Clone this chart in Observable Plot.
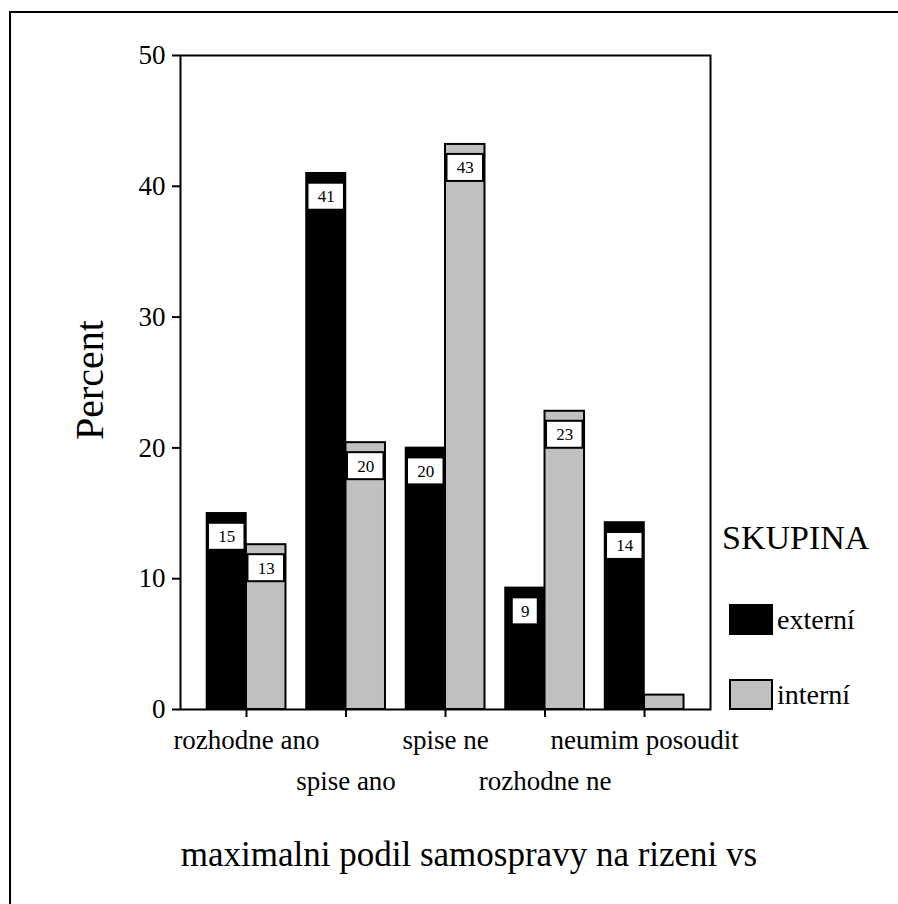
<!DOCTYPE html>
<html>
<head>
<meta charset="utf-8">
<script src="https://cdn.jsdelivr.net/npm/d3@7"></script>
<script src="https://cdn.jsdelivr.net/npm/@observablehq/plot@0.6"></script>
<style>
  html, body { margin: 0; padding: 0; background: #fff; }
  #wrap { position: relative; width: 898px; height: 904px; overflow: hidden; font-family: "Liberation Serif", "Times New Roman", serif; color: #000; }
  #outer { position: absolute; left: 9px; top: 11px; width: 900px; height: 900px; border-left: 2px solid #000; border-top: 2px solid #000; }
  #chart { position: absolute; left: 0; top: 0; }
  .txt { position: absolute; white-space: nowrap; line-height: 1; }
  .sw { position: absolute; box-sizing: border-box; }
</style>
</head>
<body>
<div id="wrap">
  <div id="outer"></div>
  <div id="chart"></div>
</div>
<script>
const categories = ["rozhodne ano", "spise ano", "spise ne", "rozhodne ne", "neumim posoudit"];
const groups = ["externí", "interní"];
const externi = [15.0, 41.0, 20.0, 9.3, 14.3];
const interni = [12.6, 20.4, 43.2, 22.8, 1.1];
const yTicks = [0, 10, 20, 30, 40, 50];
const colors = ["#000000", "#c0c0c0"];
const legendTitle = "SKUPINA";
const yLabel = "Percent";
const xTitle = "maximalni podil samospravy na rizeni vs";

const rows = [];
categories.forEach((c, i) => {
  rows.push({cat: c, group: groups[0], value: externi[i]});
  rows.push({cat: c, group: groups[1], value: interni[i]});
});
const labelled = rows.filter(d => d.value >= 2);

const W = 898, H = 904;
const mL = 180, mR = 188, mT = 55, mB = 195;
const po = 0.163;
const step = (W - mL - mR) / (categories.length + 2 * po);
const half = step / 2;
const barW = 39.5;
const outerInset = half - barW;

function boxMarks(groupIdx) {
  const marks = [];
  const sub = labelled.filter(d => d.group === groups[groupIdx]);
  [[1, 26], [2, 36.5]].forEach(([digits, bw]) => {
    const data = sub.filter(d => String(Math.round(d.value)).length === digits);
    const side = (barW - bw) / 2;
    const near = half + side;
    const far = outerInset + side;
    marks.push(Plot.barY(data, {
      x: "cat", y1: "value", y2: "value",
      insetTop: 10, insetBottom: -37,
      insetLeft: groupIdx === 0 ? far : near,
      insetRight: groupIdx === 0 ? near : far,
      fill: "white", stroke: "black", strokeWidth: 2
    }));
  });
  marks.push(Plot.text(sub, {
    x: "cat", y: "value",
    text: d => String(Math.round(d.value)),
    dx: groupIdx === 0 ? -barW / 2 : barW / 2,
    dy: 23.5,
    fontSize: 17, fill: "black", lineAnchor: "middle", textAnchor: "middle"
  }));
  return marks;
}

const chart = Plot.plot({
  width: W, height: H,
  marginLeft: mL, marginRight: mR, marginTop: mT, marginBottom: mB,
  style: {fontFamily: "Liberation Serif", background: "transparent", color: "black"},
  x: {type: "band", domain: categories, paddingInner: 0, paddingOuter: po, round: false},
  y: {domain: [0, 50]},
  color: {domain: groups, range: colors},
  marks: [
    Plot.barY(rows.filter(d => d.group === groups[0]), {
      x: "cat", y: "value", fill: "group", stroke: "black", strokeWidth: 1.5,
      insetLeft: outerInset, insetRight: half
    }),
    Plot.barY(rows.filter(d => d.group === groups[1]), {
      x: "cat", y: "value", fill: "group", stroke: "black", strokeWidth: 2,
      insetLeft: half, insetRight: outerInset
    }),
    Plot.frame({stroke: "black", strokeWidth: 2}),
    Plot.axisY({ticks: yTicks, tickSize: 8, tickPadding: 7, fontSize: 27, strokeWidth: 2, label: null}),
    Plot.axisX({ticks: categories.filter((_, i) => i % 2 === 0), tickSize: 8, tickPadding: 12, fontSize: 27, strokeWidth: 2, label: null}),
    Plot.axisX({ticks: categories.filter((_, i) => i % 2 === 1), tickSize: 8, tickPadding: 53, fontSize: 27, strokeWidth: 2, label: null}),
    ...boxMarks(0),
    ...boxMarks(1)
  ]
});
document.getElementById("chart").appendChild(chart);

const wrap = document.getElementById("wrap");
function addText(str, size, style) {
  const d = document.createElement("div");
  d.className = "txt";
  d.textContent = str;
  d.style.fontSize = size + "px";
  Object.assign(d.style, style);
  wrap.appendChild(d);
  return d;
}
addText(yLabel, 40, {left: "90px", top: "380px", transform: "translate(-50%,-50%) rotate(-90deg)"});
addText(xTitle, 35, {left: "469px", top: (866 - 0.8375 * 35) + "px", transform: "translateX(-50%)"});
addText(legendTitle, 34, {left: "722px", top: (549 - 0.8375 * 34) + "px"});
const legTops = [604, 679];
groups.forEach((g, i) => {
  const s = document.createElement("div");
  s.className = "sw";
  s.style.left = "729px";
  s.style.top = legTops[i] + "px";
  s.style.width = "44px";
  s.style.height = "31px";
  s.style.background = colors[i];
  s.style.border = "2px solid #000";
  wrap.appendChild(s);
  addText(g, 28, {left: "777px", top: (legTops[i] + 15.5 - 14) + "px"});
});
</script>
</body>
</html>
